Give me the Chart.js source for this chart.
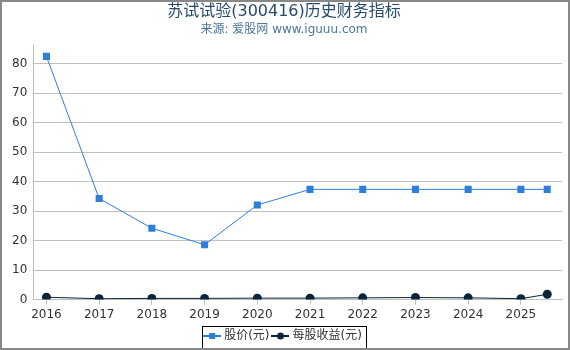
<!DOCTYPE html>
<html lang="zh">
<head>
    <meta charset="UTF-8">
    <title>苏试试验(300416)历史财务指标</title>
    <script src="https://cdn.jsdelivr.net/npm/chart.js@4"></script>
    <style>
        body { margin: 0; background: #fff; }
        #wrap { width: 570px; height: 350px; }
    </style>
</head>
<body>
    <div id="wrap"><canvas id="grafico" width="570" height="350"></canvas></div>
    <script>
        const FONT = '"DejaVu Sans", "Noto Sans CJK SC", sans-serif';

        // datos
        const years = [2016, 2017, 2018, 2019, 2020, 2021, 2022, 2023, 2024, 2025, 2025.5];
        const precio = [82.5, 34.3, 24.2, 18.6, 32.1, 37.4, 37.4, 37.4, 37.4, 37.4, 37.4];
        const eps = [0.8, 0.3, 0.4, 0.4, 0.5, 0.5, 0.6, 0.7, 0.6, 0.3, 1.8];
        const xTicks = [2016, 2017, 2018, 2019, 2020, 2021, 2022, 2023, 2024, 2025];
        const yTicks = [0, 10, 20, 30, 40, 50, 60, 70, 80];

        const azul = '#2f7ed8';
        const marino = '#0d233a';

        function icono(color, forma) {
            const c = document.createElement('canvas');
            c.width = 18; c.height = 10;
            const ctx = c.getContext('2d');
            ctx.strokeStyle = color;
            ctx.lineWidth = 2;
            ctx.beginPath(); ctx.moveTo(0, 5); ctx.lineTo(18, 5); ctx.stroke();
            ctx.fillStyle = color;
            if (forma === 'cuadro') {
                ctx.fillRect(6, 2, 6, 6);
            } else {
                ctx.beginPath(); ctx.arc(9, 5, 3.5, 0, Math.PI * 2); ctx.fill();
            }
            return c;
        }

        const marco = {
            id: 'marco',
            afterDraw(chart) {
                const ctx = chart.ctx;
                const cajas = chart.legend.legendHitBoxes;
                ctx.save();
                if (cajas && cajas.length) {
                    const a = cajas[0], b = cajas[cajas.length - 1];
                    const x0 = Math.round(a.left) - 4;
                    const x1 = Math.round(b.left + b.width) + 4;
                    const y0 = Math.round(a.top) - 4;
                    const y1 = Math.round(a.top + a.height) + 7;
                    ctx.strokeStyle = '#000';
                    ctx.lineWidth = 1;
                    ctx.strokeRect(x0 + 0.5, y0 + 0.5, x1 - x0, y1 - y0);
                }
                ctx.strokeStyle = '#888';
                ctx.lineWidth = 2;
                ctx.strokeRect(1, 1, 568, 348);
                ctx.restore();
            }
        };

        new Chart(document.getElementById('grafico'), {
            type: 'line',
            data: {
                datasets: [{
                    label: '股价(元)',
                    data: years.map((x, i) => ({ x: x, y: precio[i] })),
                    borderColor: azul,
                    backgroundColor: azul,
                    borderWidth: 1,
                    pointStyle: 'rect',
                    pointRadius: 5,
                    pointBorderWidth: 0,
                    legendIcon: icono(azul, 'cuadro')
                }, {
                    label: '每股收益(元)',
                    data: years.map((x, i) => ({ x: x, y: eps[i] })),
                    borderColor: marino,
                    backgroundColor: marino,
                    borderWidth: 1,
                    pointStyle: 'circle',
                    pointRadius: 4.5,
                    pointBorderWidth: 0,
                    legendIcon: icono(marino, 'circulo')
                }]
            },
            options: {
                responsive: false,
                animation: false,
                layout: { padding: { left: 6, right: 8, bottom: -2, top: 2 } },
                plugins: {
                    title: {
                        display: true,
                        text: '苏试试验(300416)历史财务指标',
                        color: '#274b6d',
                        font: { family: FONT, size: 16, weight: 'normal' },
                        padding: { top: 0, bottom: 0 }
                    },
                    subtitle: {
                        display: true,
                        text: '来源: 爱股网 www.iguuu.com',
                        color: '#4d759e',
                        font: { family: FONT, size: 12 },
                        padding: { top: 1, bottom: 8 }
                    },
                    legend: {
                        position: 'bottom',
                        labels: {
                            color: '#333',
                            font: { family: FONT, size: 12 },
                            usePointStyle: true,
                            boxWidth: 18,
                            boxHeight: 10,
                            padding: 5,
                            generateLabels(chart) {
                                return chart.data.datasets.map((ds, i) => ({
                                    text: ds.label,
                                    pointStyle: ds.legendIcon,
                                    fontColor: '#333',
                                    datasetIndex: i,
                                    hidden: false,
                                    lineWidth: 0
                                }));
                            }
                        }
                    },
                    tooltip: { enabled: false }
                },
                scales: {
                    x: {
                        type: 'linear',
                        min: 2015.75,
                        max: 2025.78,
                        afterBuildTicks(axis) {
                            axis.ticks = xTicks.map(v => ({ value: v }));
                        },
                        ticks: {
                            color: '#333',
                            font: { family: FONT, size: 12 },
                            callback: v => String(v),
                            autoSkip: false,
                            maxRotation: 0,
                            padding: 3
                        },
                        grid: {
                            drawOnChartArea: false,
                            drawTicks: true,
                            tickLength: 5,
                            color: '#c0c0c0'
                        },
                        border: { color: '#c0c0c0' }
                    },
                    y: {
                        min: 0,
                        max: 86.5,
                        afterBuildTicks(axis) {
                            axis.ticks = yTicks.map(v => ({ value: v }));
                        },
                        ticks: {
                            color: '#333',
                            font: { family: FONT, size: 12 },
                            padding: 6
                        },
                        grid: {
                            color: '#c0c0c0',
                            drawTicks: false
                        },
                        border: { color: '#c0c0c0' }
                    }
                }
            },
            plugins: [marco]
        });
    </script>
</body>
</html>
